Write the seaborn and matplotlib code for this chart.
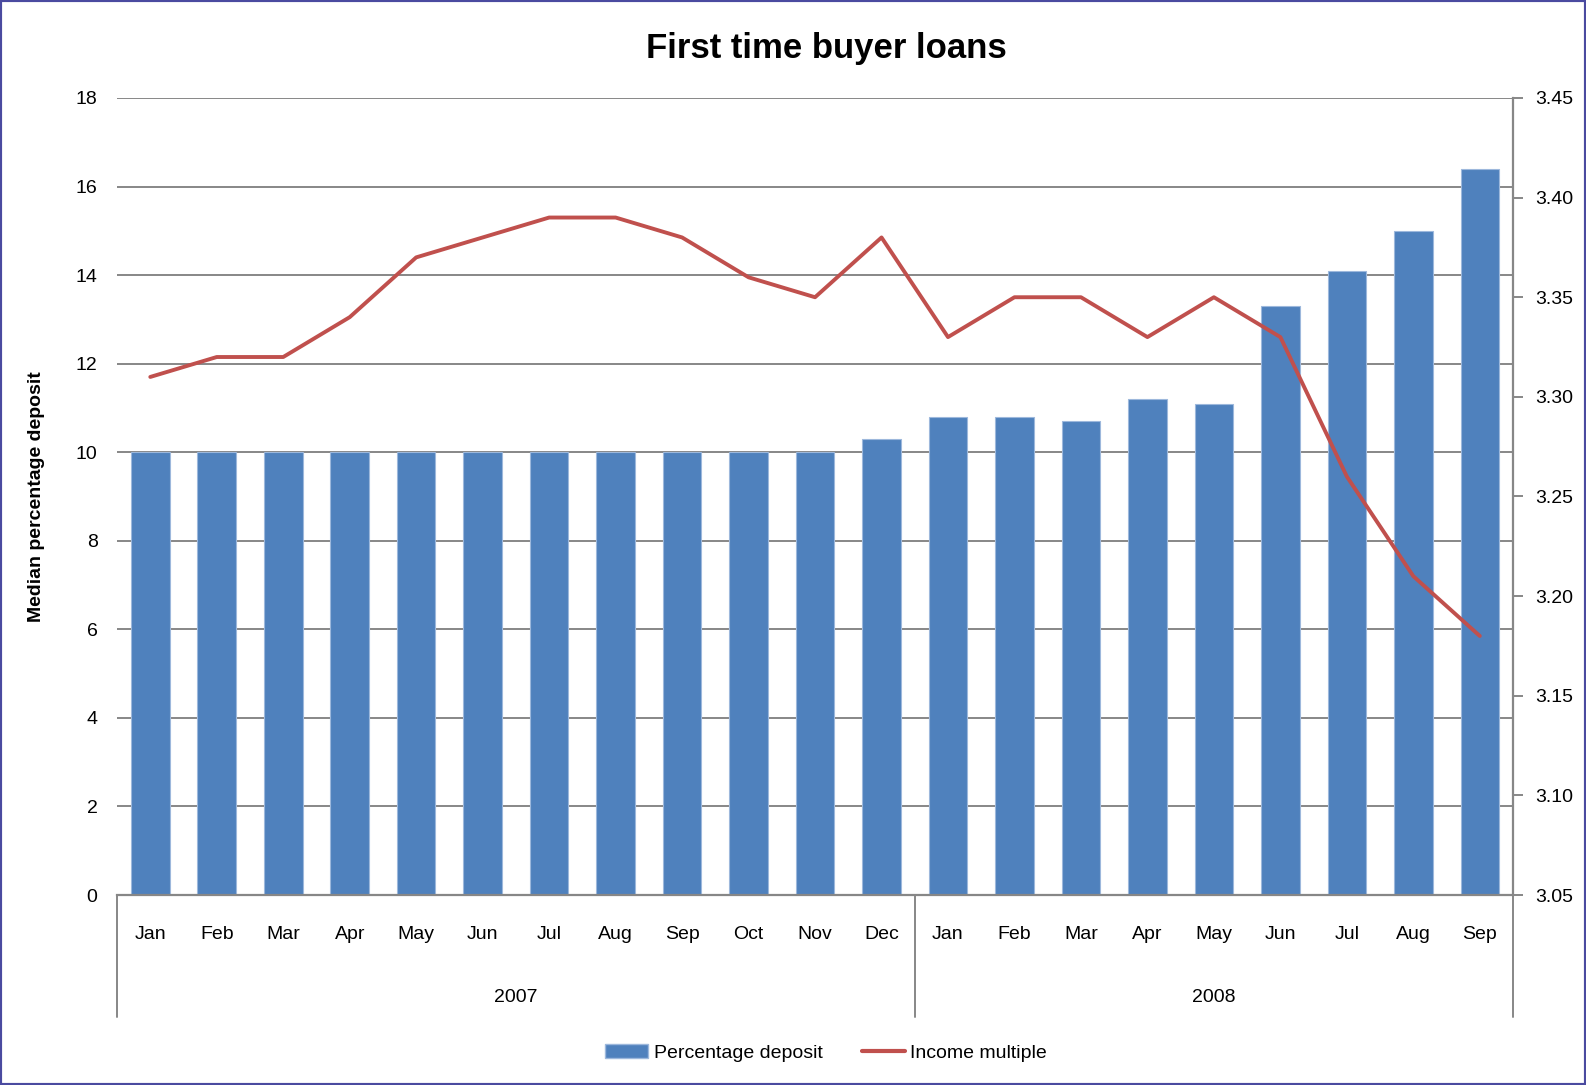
import numpy as np
import pandas as pd
import matplotlib
matplotlib.use("Agg")
import matplotlib.pyplot as plt
import matplotlib.transforms as mtransforms
from matplotlib.patches import Patch, Rectangle
from matplotlib.lines import Line2D
import seaborn as sns

# data
years = ["2007"] * 12 + ["2008"] * 9
months = ["Jan", "Feb", "Mar", "Apr", "May", "Jun", "Jul", "Aug", "Sep", "Oct", "Nov", "Dec",
          "Jan", "Feb", "Mar", "Apr", "May", "Jun", "Jul", "Aug", "Sep"]
pct_deposit = [10.0, 10.0, 10.0, 10.0, 10.0, 10.0, 10.0, 10.0, 10.0, 10.0, 10.0, 10.3,
               10.8, 10.8, 10.7, 11.2, 11.1, 13.3, 14.1, 15.0, 16.4]
income_multiple = [3.31, 3.32, 3.32, 3.34, 3.37, 3.38, 3.39, 3.39, 3.38, 3.36, 3.35, 3.38,
                   3.33, 3.35, 3.35, 3.33, 3.35, 3.33, 3.26, 3.21, 3.18]
left_ticks = [0, 2, 4, 6, 8, 10, 12, 14, 16, 18]
right_ticks = [3.05, 3.10, 3.15, 3.20, 3.25, 3.30, 3.35, 3.40, 3.45]

df = pd.DataFrame({
    "period": [f"{y}-{m}" for y, m in zip(years, months)],
    "year": years,
    "month": months,
    "deposit": pct_deposit,
    "multiple": income_multiple,
})
df["pos"] = np.arange(len(df))

BAR = "#4F81BD"
LINE = "#C0504D"
GRID = "#878787"

sns.set_theme(style="white")
plt.rcParams["font.family"] = ["Liberation Sans", "DejaVu Sans"]
plt.rcParams.update({"text.color": "black", "axes.labelcolor": "black",
                     "xtick.color": "black", "ytick.color": "black"})

fig = plt.figure(figsize=(15.86, 10.85), dpi=100)
ax = fig.add_axes([0.0738, 0.1751, 0.8802, 0.7346])

sns.barplot(data=df, x="period", y="deposit", ax=ax, color=BAR, saturation=1,
            width=0.58, edgecolor="#9db8dc", linewidth=0.8)
ax.set_xlim(-0.5, len(df) - 0.5)
ax.set_ylim(0, 18)
ax.set_yticks(left_ticks)
ax.set_yticklabels([str(t) for t in left_ticks], fontsize=14)
ax.yaxis.grid(True, color=GRID, linewidth=1.4)
ax.set_axisbelow(True)
ax.tick_params(axis="y", length=0, pad=14)
ax.tick_params(axis="x", length=0, pad=22)
ax.set_xticks(df["pos"])
ax.set_xticklabels(df["month"], fontsize=14)
ax.set_xlabel("")
ax.set_ylabel("Median percentage deposit", fontsize=14, fontweight="bold", labelpad=22)
for s in ["left", "top", "right"]:
    ax.spines[s].set_visible(False)
ax.spines["bottom"].set_color(GRID)
ax.spines["bottom"].set_linewidth(1.6)

ax2 = ax.twinx()
sns.lineplot(data=df, x="pos", y="multiple", ax=ax2, color=LINE, linewidth=2.8,
             sort=False)
ax2.lines[-1].set_solid_joinstyle("round")
ax2.lines[-1].set_solid_capstyle("round")
ax2.set_xlim(-0.5, len(df) - 0.5)
ax2.set_ylim(3.05, 3.45)
ax2.set_yticks(right_ticks)
ax2.set_yticklabels([f"{t:.2f}" for t in right_ticks], fontsize=14)
ax2.set_ylabel("")
ax2.tick_params(axis="y", direction="out", length=7, width=1.4, color=GRID,
                labelcolor="black", pad=9)
for s in ["left", "top", "bottom"]:
    ax2.spines[s].set_visible(False)
ax2.spines["right"].set_color(GRID)
ax2.spines["right"].set_linewidth(1.6)

# year grouping below month labels
trans = mtransforms.blended_transform_factory(ax.transData, ax.transAxes)
bounds = [-0.5]
for i in range(1, len(df)):
    if df["year"][i] != df["year"][i - 1]:
        bounds.append(i - 0.5)
bounds.append(len(df) - 0.5)
for b in bounds:
    ax.add_line(Line2D([b, b], [0, -0.153], transform=trans, color=GRID,
                       linewidth=1.4, clip_on=False))
for yr in df["year"].unique():
    p = df.loc[df["year"] == yr, "pos"]
    ax.text((p.min() + p.max()) / 2, -0.128, yr, transform=trans, ha="center",
            va="center", fontsize=14)

fig.suptitle("First time buyer loans", x=0.521, y=0.955, fontsize=25,
             fontweight="bold", va="center")

handles = [Patch(facecolor=BAR, edgecolor="#9db8dc", label="Percentage deposit"),
           Line2D([], [], color=LINE, linewidth=3, label="Income multiple")]
fig.legend(handles=handles, loc="center", bbox_to_anchor=(0.521, 0.0295), ncol=2,
           frameon=False, fontsize=14, handlelength=2.2, handletextpad=0.3,
           columnspacing=2.0)

fig.patches.append(Rectangle((0, 0), 1, 1, transform=fig.transFigure, fill=False,
                             edgecolor="#4a4aa0", linewidth=3, zorder=10))

fig.savefig("out.png", dpi=100)
